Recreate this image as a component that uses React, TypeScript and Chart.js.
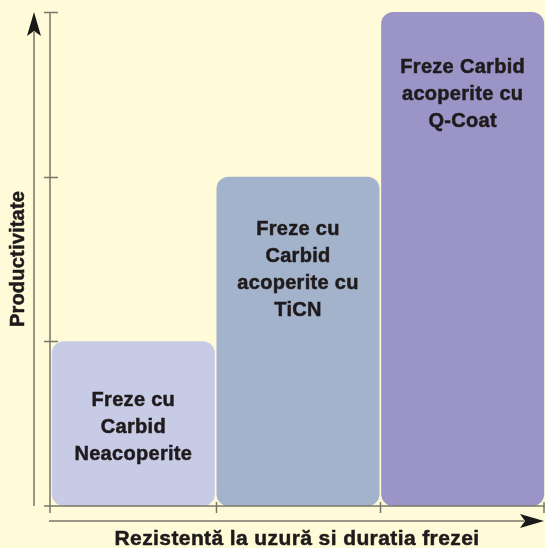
import React, { useEffect, useRef } from "react";
import { Chart, registerables } from "chart.js";

Chart.register(...registerables);

const categories = [
  "Freze cu Carbid Neacoperite",
  "Freze cu Carbid acoperite cu TiCN",
  "Freze Carbid acoperite cu Q-Coat",
];
const barLabelLines = [
  ["Freze cu", "Carbid", "Neacoperite"],
  ["Freze cu", "Carbid", "acoperite cu", "TiCN"],
  ["Freze Carbid", "acoperite cu", "Q-Coat"],
];
const productivity = [1, 2, 3];
const yTickValues = [0, 1, 2, 3];
const barColors = ["#c8cbe6", "#a4b3cc", "#9b94c7"];
const yTitle = "Productivitate";
const xTitle = "Rezistentă la uzură si duratia frezei";

const BG = "#fffbd9";
const AXIS = "#77746a";
const TEXT = "#1f1b1c";
const FAMILY = "'Liberation Sans', Arial, sans-serif";

function heavyText(ctx: any, s: string, x: number, y: number) {
  ctx.fillText(s, x, y);
  ctx.strokeText(s, x, y);
}

const decorPlugin = {
  id: "decor",
  afterDatasetsDraw(chart: any) {
    const ctx = chart.ctx;
    const x = chart.scales.x;
    const y = chart.scales.y;
    const area = chart.chartArea;
    const axisX = area.left - 1;
    const axisY = y.getPixelForValue(0);
    const topY = y.getPixelForValue(3);

    // bar labels
    const offsets = [65, 58, 61];
    const lh = 27;
    ctx.save();
    ctx.fillStyle = TEXT;
    ctx.strokeStyle = TEXT;
    ctx.lineWidth = 0.5;
    ctx.font = "bold 20px " + FAMILY;
    (ctx as any).letterSpacing = "0.3px";
    ctx.textAlign = "center";
    ctx.textBaseline = "alphabetic";
    const meta = chart.getDatasetMeta(0);
    meta.data.forEach((bar: any, i: number) => {
      const lines = barLabelLines[i];
      lines.forEach((ln: string, j: number) => {
        heavyText(ctx, ln, bar.x, bar.y + offsets[i] + j * lh);
      });
    });
    ctx.restore();

    ctx.save();
    ctx.strokeStyle = AXIS;
    ctx.lineWidth = 1.5;
    // inner y axis
    ctx.beginPath();
    ctx.moveTo(axisX, topY);
    ctx.lineTo(axisX, axisY + 7);
    ctx.stroke();
    // y ticks
    yTickValues.forEach((v) => {
      if (v === 0) return;
      const py = Math.round(y.getPixelForValue(v)) + 0.5;
      ctx.beginPath();
      ctx.moveTo(axisX - 6, py);
      ctx.lineTo(axisX + 8, py);
      ctx.stroke();
    });
    // inner x axis
    ctx.beginPath();
    ctx.moveTo(axisX - 6, axisY);
    ctx.lineTo(area.right, axisY);
    ctx.stroke();
    // x ticks at category boundaries
    for (let i = 1; i <= categories.length; i++) {
      const px = Math.round((x.getPixelForValue(i - 1) + x.getPixelForValue(i)) / 2) + 0.5;
      const bx = i === categories.length ? area.right - 1 : px;
      ctx.beginPath();
      ctx.moveTo(bx, axisY - 4);
      ctx.lineTo(bx, axisY + 7);
      ctx.stroke();
    }

    // outer y arrow axis
    const ox = 34;
    ctx.beginPath();
    ctx.moveTo(ox, axisY);
    ctx.lineTo(ox, topY + 20);
    ctx.stroke();
    ctx.fillStyle = "#1a1a1a";
    ctx.beginPath();
    ctx.moveTo(ox, topY);
    ctx.lineTo(ox + 7, topY + 24);
    ctx.lineTo(ox, topY + 19);
    ctx.lineTo(ox - 7, topY + 24);
    ctx.closePath();
    ctx.fill();

    // outer x arrow axis
    const oy = axisY + 15;
    const tipX = area.right - 1;
    ctx.beginPath();
    ctx.moveTo(axisX - 1, oy);
    ctx.lineTo(tipX - 20, oy);
    ctx.stroke();
    ctx.beginPath();
    ctx.moveTo(tipX, oy);
    ctx.lineTo(tipX - 24, oy - 7);
    ctx.lineTo(tipX - 19, oy);
    ctx.lineTo(tipX - 24, oy + 7);
    ctx.closePath();
    ctx.fill();
    ctx.restore();

    // titles
    ctx.save();
    ctx.fillStyle = TEXT;
    ctx.strokeStyle = TEXT;
    ctx.lineWidth = 0.5;
    ctx.font = "bold 20px " + FAMILY;
    (ctx as any).letterSpacing = "0.2px";
    ctx.textAlign = "center";
    ctx.textBaseline = "middle";
    ctx.translate(18, 259);
    ctx.rotate(-Math.PI / 2);
    heavyText(ctx, yTitle, 0, 0);
    ctx.restore();

    ctx.save();
    ctx.fillStyle = TEXT;
    ctx.strokeStyle = TEXT;
    ctx.lineWidth = 0.5;
    ctx.font = "bold 21px " + FAMILY;
    (ctx as any).letterSpacing = "0.4px";
    ctx.textAlign = "center";
    ctx.textBaseline = "alphabetic";
    heavyText(ctx, xTitle, 297, 545);
    ctx.restore();
  },
};

export default function App() {
  const ref = useRef<HTMLCanvasElement>(null);
  useEffect(() => {
    if (!ref.current) return;
    const chart = new Chart(ref.current, {
      type: "bar",
      data: {
        labels: categories,
        datasets: [
          {
            data: productivity,
            backgroundColor: barColors,
            borderRadius: 12,
            borderSkipped: false,
            barPercentage: 0.99,
            categoryPercentage: 1,
          },
        ],
      },
      options: {
        responsive: false,
        animation: false,
        devicePixelRatio: 1,
        layout: { padding: { left: 51, right: 0, top: 12, bottom: 42 } },
        plugins: { legend: { display: false }, tooltip: { enabled: false } },
        scales: {
          x: { display: false },
          y: { display: false, min: 0, max: 3 },
        },
      },
      plugins: [decorPlugin],
    });
    return () => chart.destroy();
  }, []);
  return (
    <div
      style={{
        position: "fixed",
        left: 0,
        top: 0,
        width: 545,
        height: 548,
        background: BG,
      }}
    >
      <canvas ref={ref} width={545} height={548} style={{ display: "block" }} />
    </div>
  );
}
